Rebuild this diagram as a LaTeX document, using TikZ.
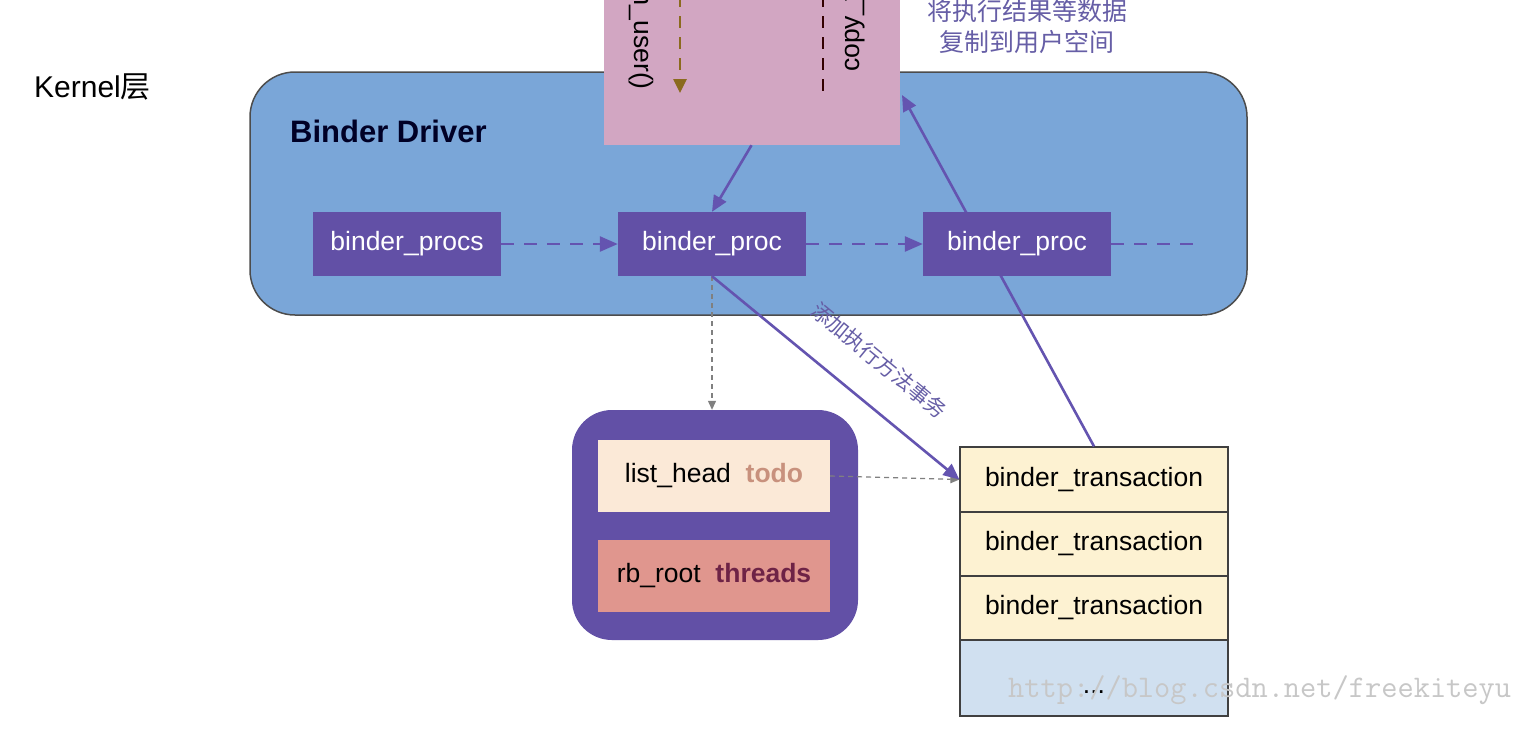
\documentclass[tikz,border=0pt]{standalone}
\usepackage{fontspec}
\setmainfont{Liberation Sans}
\newfontfamily\cjk{Noto Sans CJK SC}
\usetikzlibrary{arrows.meta}
\definecolor{driverblue}{RGB}{122,166,216}
\definecolor{procpurple}{RGB}{98,80,166}
\definecolor{copypink}{RGB}{210,166,194}
\definecolor{labelpurple}{RGB}{102,94,166}
\definecolor{arrowpurple}{RGB}{100,84,176}
\definecolor{todopeach}{RGB}{251,233,215}
\definecolor{threadsalmon}{RGB}{224,150,142}
\definecolor{todotext}{RGB}{200,145,125}
\definecolor{threadtext}{RGB}{110,35,70}
\definecolor{txyellow}{RGB}{253,242,210}
\definecolor{txblue}{RGB}{208,224,240}
\definecolor{copybrown}{RGB}{139,106,30}
\begin{document}
\begin{tikzpicture}[x=1pt, y=-1pt,
                    procbox/.style = {shape = rectangle,
                                      fill = procpurple,
                                      text = white,
                                      inner sep = 0pt,
                                      minimum width = 188pt,
                                      minimum height = 64pt,
                                      font = \fontsize{26.5pt}{32pt}\selectfont},
                    fieldbox/.style = {shape = rectangle,
                                       inner sep = 0pt,
                                       minimum width = 232pt,
                                       minimum height = 72pt,
                                       font = \fontsize{26.5pt}{32pt}\selectfont},
                    txbox/.style = {shape = rectangle,
                                    draw = black!75,
                                    line width = 1.3pt,
                                    fill = txyellow,
                                    inner sep = 0pt,
                                    minimum width = 268pt,
                                    font = \fontsize{26.5pt}{32pt}\selectfont},
                    linkarrow/.style = {draw = arrowpurple,
                                        line width = 2.6pt,
                                        dash pattern = on 13pt off 10pt,
                                        -{Triangle[length=18pt, width=15pt]}},
                    callarrow/.style = {draw = arrowpurple,
                                        line width = 2.6pt,
                                        -{Triangle[length=16pt, width=14pt]}},
                    greyarrow/.style = {draw = black!50,
                                        line width = 1.2pt,
                                        dash pattern = on 5pt off 4pt,
                                        -{Triangle[length=9pt, width=8pt]}}]
        \useasboundingbox (0,0) rectangle (1538,748);
        \clip (0,0) rectangle (1538,748);
        \fill[white] (0,0) rectangle (1538,748);

        % kernel layer
        \node[anchor = west, inner sep = 0pt, font = \fontsize{30pt}{35pt}\selectfont] (kernel) at (34,87) {Kernel{\cjk 层}};
        \node[shape = rectangle, draw = black!70, line width = 1.5pt, fill = driverblue,
              rounded corners = 45pt, minimum width = 997pt, minimum height = 243pt] (driver) at (748.5,193.5) {};
        \node[anchor = west, inner sep = 0pt, text = black!85!blue,
              font = \fontsize{31pt}{36pt}\selectfont\bfseries] (title) at (290,131) {Binder Driver};

        % copy box from user space
        \node[shape = rectangle, fill = copypink, minimum width = 296pt, minimum height = 175pt] (copy) at (751.5,57.5) {};
        \node[rotate = -90, anchor = east, inner sep = 0pt, font = \fontsize{26.5pt}{32pt}\selectfont] (fromuser) at (641,90) {copy\_from\_user()};
        \node[rotate = 90, anchor = west, inner sep = 0pt, font = \fontsize{26.5pt}{32pt}\selectfont] (touser) at (853,72) {copy\_to\_user()};
        \coordinate (fromtop) at (680,-5);
        \coordinate (fromend) at (680,93);
        \coordinate (totop) at (823,-5);
        \coordinate (toend) at (823,98);
        \draw[copybrown, line width = 2.6pt, dash pattern = on 12pt off 9pt,
              -{Triangle[length=14pt, width=13pt]}] (fromtop) -- (fromend);
        \draw[black!80!red, line width = 2.6pt, dash pattern = on 12pt off 9pt] (totop) -- (toend);
        \node[align = center, text = labelpurple, inner sep = 0pt,
              font = \cjk\fontsize{25pt}{31pt}\selectfont] (result) at (1027,27) {将执行结果等数据\\复制到用户空间};

        % transactions
        \node[txbox, minimum height = 65pt] (tx1) at (1094,479.5) {binder\_transaction};
        \node[txbox, minimum height = 64pt] (tx2) at (1094,544) {binder\_transaction};
        \node[txbox, minimum height = 64pt] (tx3) at (1094,608) {binder\_transaction};
        \node[txbox, minimum height = 76pt, fill = txblue, text depth = 0pt, text height = 30pt] (txmore) at (1094,678) {...};

        % return path, behind the procs
        \coordinate (copyin) at (902,95);
        \draw[callarrow] (tx1.north) -- (copyin);

        % procs
        \node[procbox] (procs) at (407,244) {binder\_procs};
        \node[procbox] (proc1) at (712,244) {binder\_proc};
        \node[procbox] (proc2) at (1017,244) {binder\_proc};
        \coordinate (tailend) at (1197,244);
        \draw[linkarrow] (procs) -- (proc1);
        \draw[linkarrow] (proc1) -- (proc2);
        \draw[linkarrow, -] (proc2) -- (tailend);
        \draw[callarrow] (copy.south) -- (proc1.north);

        % todo and threads
        \node[shape = rectangle, fill = procpurple, rounded corners = 40pt,
              minimum width = 286pt, minimum height = 230pt] (task) at (715,525) {};
        \node[fieldbox, fill = todopeach] (todo) at (714,476) {list\_head\ \ {\bfseries\color{todotext}todo}};
        \node[fieldbox, fill = threadsalmon] (threads) at (714,576) {rb\_root\ \ {\bfseries\color{threadtext}threads}};
        \draw[greyarrow] (proc1.south) -- (proc1.south |- task.north);
        \draw[greyarrow] (todo.east) -- (tx1.west);
        \draw[callarrow] (proc1.south) -- node[pos = 0.57, sloped, above = 30pt, text = labelpurple, inner sep = 0pt,
              font = \cjk\fontsize{21pt}{25pt}\selectfont] (addlabel) {添加执行方法事务} (tx1.west);

        % watermark
        \node[anchor = west, inner sep = 0pt, text = black!22,
              font = \ttfamily\fontsize{31.5pt}{36pt}\selectfont] (mark) at (1008,690) {http://blog.csdn.net/freekiteyu};
\end{tikzpicture}
\end{document}
